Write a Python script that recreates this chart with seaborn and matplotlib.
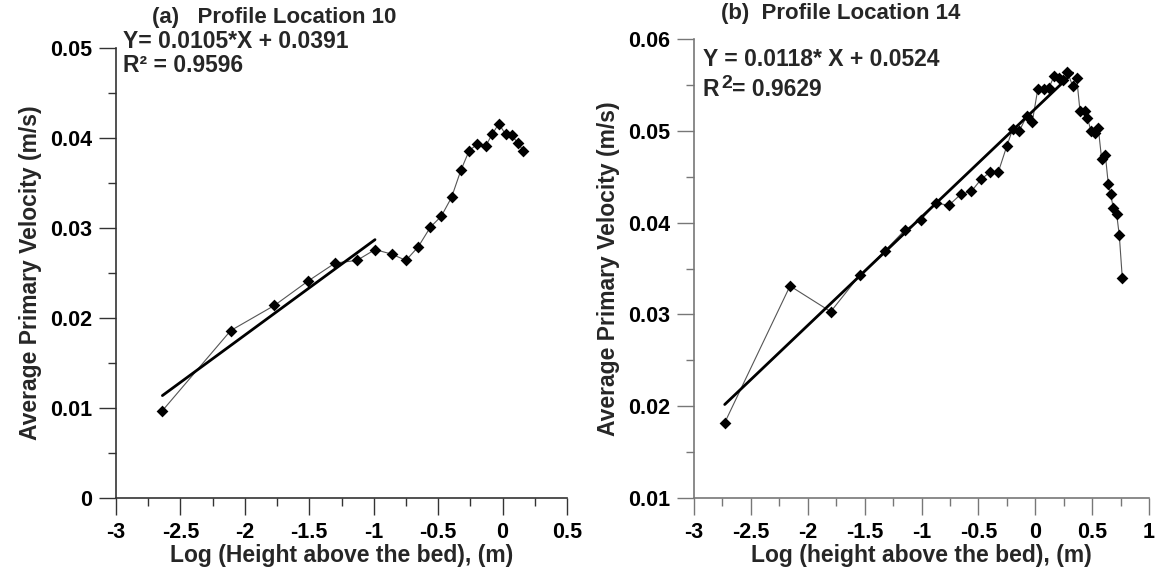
import numpy as np
import pandas as pd
import seaborn as sns
import matplotlib.pyplot as plt
from matplotlib.ticker import MultipleLocator

# ---------------- DATA ----------------
# panel (a) profile location 10
log_h_a = [-2.64, -2.11, -1.77, -1.51, -1.30, -1.13, -0.99, -0.86, -0.75, -0.655,
           -0.56, -0.476, -0.396, -0.324, -0.259, -0.197, -0.132, -0.081, -0.029,
           0.023, 0.070, 0.116, 0.160]
vel_a = [0.0097, 0.0186, 0.0214, 0.0241, 0.0261, 0.0264, 0.0276, 0.0271, 0.0264, 0.0279,
         0.0301, 0.0313, 0.0334, 0.0364, 0.0386, 0.0393, 0.0391, 0.0404, 0.0416,
         0.0404, 0.0403, 0.0395, 0.0386]
slope_a, icpt_a, r2_a = 0.0105, 0.0391, 0.9596
fit_range_a = [-2.64, -0.99]

# panel (b) profile location 14
log_h_b = [-2.73, -2.156, -1.798, -1.541, -1.324, -1.145, -1.007, -0.873, -0.758, -0.653,
           -0.562, -0.477, -0.398, -0.325, -0.251, -0.198, -0.140, -0.075, -0.026,
           0.022, 0.080, 0.121, 0.167, 0.209, 0.247, 0.282, 0.329, 0.364, 0.393,
           0.435, 0.458, 0.490, 0.525, 0.554, 0.584, 0.616, 0.642, 0.663, 0.686,
           0.716, 0.739, 0.765]
vel_b = [0.0182, 0.0331, 0.0303, 0.0343, 0.0369, 0.0392, 0.0403, 0.0421, 0.0419, 0.0431,
         0.0434, 0.0447, 0.0455, 0.0455, 0.0483, 0.0502, 0.0500, 0.0516, 0.0510,
         0.0545, 0.0545, 0.0547, 0.0560, 0.0558, 0.0555, 0.0564, 0.0549, 0.0558, 0.0522,
         0.0522, 0.0514, 0.0500, 0.0498, 0.0503, 0.0469, 0.0474, 0.0442, 0.0431, 0.0416,
         0.0409, 0.0386, 0.0340]
slope_b, icpt_b, r2_b = 0.0118, 0.0524, 0.9629
fit_range_b = [-2.73, 0.33]

xticks_a = [-3, -2.5, -2, -1.5, -1, -0.5, 0, 0.5]
xlabels_a = ["-3", "-2.5", "-2", "-1.5", "-1", "-0.5", "0", "0.5"]
yticks_a = [0, 0.01, 0.02, 0.03, 0.04, 0.05]
ylabels_a = ["0", "0.01", "0.02", "0.03", "0.04", "0.05"]

xticks_b = [-3, -2.5, -2, -1.5, -1, -0.5, 0, 0.5, 1]
xlabels_b = ["-3", "-2.5", "-2", "-1.5", "-1", "-0.5", "0", "0.5", "1"]
yticks_b = [0.01, 0.02, 0.03, 0.04, 0.05, 0.06]
ylabels_b = ["0.01", "0.02", "0.03", "0.04", "0.05", "0.06"]

# ---------------- STYLE ----------------
sns.set_style("ticks")
plt.rcParams['font.family'] = ['Liberation Sans', 'DejaVu Sans']
plt.rcParams['font.weight'] = 'bold'
plt.rcParams['axes.unicode_minus'] = False

W, H = 1161, 577
fig = plt.figure(figsize=(W / 100, H / 100), dpi=100)


def px_axes(l, t, r, b):
    return fig.add_axes([l / W, 1 - b / H, (r - l) / W, (b - t) / H])


ax_a = px_axes(116, 48, 567, 498)
ax_b = px_axes(694, 39, 1149, 498)


def draw_panel(ax, xs, ys, slope, icpt, fit_range, xlim, ylim,
               xt, xl, yt, yl, xlabel, spine_col):
    df = pd.DataFrame({"x": xs, "y": ys})
    sns.lineplot(data=df, x="x", y="y", sort=False, ax=ax, color="#555555",
                 linewidth=0.8, estimator=None)
    sns.scatterplot(data=df, x="x", y="y", ax=ax, marker="D", s=36,
                    color="black", edgecolor="black", linewidth=0, zorder=4)
    fx = np.array(fit_range)
    fit_df = pd.DataFrame({"x": fx, "y": slope * fx + icpt})
    sns.lineplot(data=fit_df, x="x", y="y", ax=ax, color="black",
                 linewidth=2.0, estimator=None, zorder=3)
    ax.set_xlim(*xlim)
    ax.set_ylim(*ylim)
    ax.set_xticks(xt)
    ax.set_xticklabels(xl)
    ax.set_yticks(yt)
    ax.set_yticklabels(yl)
    ax.xaxis.set_minor_locator(MultipleLocator(0.25))
    ax.yaxis.set_minor_locator(MultipleLocator(0.005))
    ax.tick_params(which='major', length=12, width=1, labelsize=15.5, pad=5)
    ax.tick_params(which='minor', length=6, width=1)
    ax.tick_params(axis='both', which='both', colors=spine_col, labelcolor='black')
    for s in ['top', 'right']:
        ax.spines[s].set_visible(False)
    for s in ['left', 'bottom']:
        ax.spines[s].set_color(spine_col)
        ax.spines[s].set_linewidth(1.2)
    for lab in ax.get_xticklabels() + ax.get_yticklabels():
        lab.set_fontweight('bold')
    ax.set_xlabel(xlabel, fontsize=16.5, fontweight='bold', labelpad=1)
    ax.set_ylabel("Average Primary Velocity (m/s)", fontsize=16.5,
                  fontweight='bold', labelpad=6)


draw_panel(ax_a, log_h_a, vel_a, slope_a, icpt_a, fit_range_a, (-3, 0.5), (0, 0.05),
           xticks_a, xlabels_a, yticks_a, ylabels_a,
           "Log (Height above the bed), (m)", "#333333")
draw_panel(ax_b, log_h_b, vel_b, slope_b, icpt_b, fit_range_b, (-3, 1), (0.01, 0.06),
           xticks_b, xlabels_b, yticks_b, ylabels_b,
           "Log (height above the bed), (m)", "#777777")

# titles
fig.text(152 / W, 1 - 18 / H, "(a)   Profile Location 10", fontsize=16,
         fontweight='bold', va='center', ha='left')
fig.text(721 / W, 1 - 14 / H, "(b)  Profile Location 14", fontsize=16,
         fontweight='bold', va='center', ha='left')

# regression text
fig.text(123 / W, 1 - 41 / H, f"Y= {slope_a:.4f}*X + {icpt_a:.4f}", fontsize=16.5,
         fontweight='bold', va='center', ha='left')
fig.text(123 / W, 1 - 65 / H, f"R\u00b2 = {r2_a:.4f}", fontsize=16.5,
         fontweight='bold', va='center', ha='left')
fig.text(703 / W, 1 - 60 / H, f"Y = {slope_b:.4f}* X + {icpt_b:.4f}", fontsize=16.5,
         fontweight='bold', va='center', ha='left')
fig.text(703 / W, 1 - 89 / H, "R", fontsize=16.5, fontweight='bold',
         va='center', ha='left')
fig.text(721 / W, 1 - 83 / H, "2", fontsize=14, fontweight='bold',
         va='center', ha='left')
fig.text(732 / W, 1 - 89 / H, f"= {r2_b:.4f}", fontsize=16.5, fontweight='bold',
         va='center', ha='left')

fig.savefig("out.png", dpi=100)
